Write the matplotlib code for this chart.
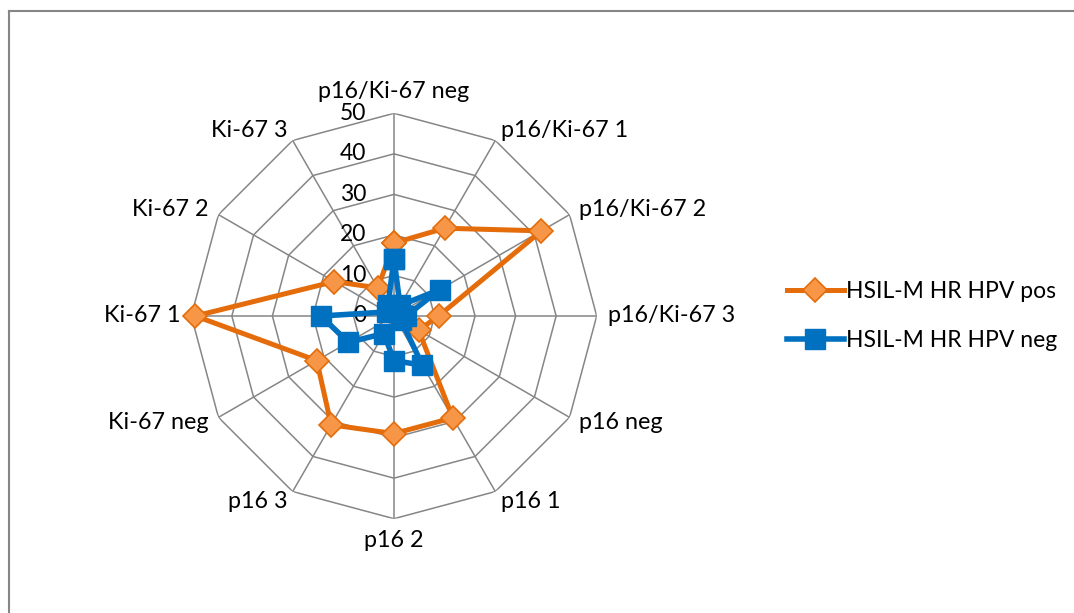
import numpy as np
import matplotlib
matplotlib.use("Agg")
import matplotlib.pyplot as plt
from matplotlib.lines import Line2D
from matplotlib.transforms import offset_copy

plt.rcParams['font.family'] = ['Lato', 'DejaVu Sans']

categories = ["p16/Ki-67 neg", "p16/Ki-67 1", "p16/Ki-67 2", "p16/Ki-67 3",
              "p16 neg", "p16 1", "p16 2", "p16 3",
              "Ki-67 neg", "Ki-67 1", "Ki-67 2", "Ki-67 3"]
hpv_pos = [18, 25, 42, 11, 7, 29, 29, 31, 22, 49, 17, 8]
hpv_neg = [14, 3, 13, 3, 2, 14, 11, 5, 13, 18, 2, 3]
series_names = ["HSIL-M HR HPV pos", "HSIL-M HR HPV neg"]
ring_values = [0, 10, 20, 30, 40, 50]

W, H = 1074, 613
fig = plt.figure(figsize=(W / 100, H / 100), dpi=100)

cx, cy, R = 394, 316, 202.7
ax = fig.add_axes([(cx - R) / W, (H - cy - R) / H, 2 * R / W, 2 * R / H],
                  projection='polar')
ax.set_theta_zero_location('N')
ax.set_theta_direction(-1)
ax.set_ylim(0, 50)
ax.grid(False)
ax.spines['polar'].set_visible(False)
ax.set_xticks([])
ax.set_yticks([])
ax.patch.set_alpha(0)

n = len(categories)
angles = np.arange(n) * 2 * np.pi / n
closed = np.concatenate([angles, angles[:1]])

grid_col = '#868686'
for r in ring_values[1:]:
    ax.plot(closed, [r] * (n + 1), color=grid_col, lw=1.1, zorder=1)
for a in angles:
    ax.plot([a, a], [0, 50], color=grid_col, lw=1.1, zorder=1)

# radial labels
for r in ring_values:
    tr = offset_copy(ax.transData, fig=fig, x=-28, y=0, units='dots')
    ax.text(0, r, str(r), transform=tr, ha='right', va='center',
            fontsize=16.5, color='black', zorder=2)

# category labels
pad = 11
for a, lab in zip(angles, categories):
    s, c = np.sin(a), np.cos(a)
    deg = np.degrees(a)
    if abs(deg) < 1:
        ha, va = 'center', 'bottom'
    elif abs(deg - 180) < 1:
        ha, va = 'center', 'top'
    elif deg < 180:
        ha, va = 'left', 'center'
    else:
        ha, va = 'right', 'center'
    tr = offset_copy(ax.transData, fig=fig, x=pad * s, y=pad * c, units='dots')
    ax.text(a, 50, lab, transform=tr, ha=ha, va=va, fontsize=16.8, color='black')

orange_line = '#E46C0A'
orange_fill = '#F79646'
blue = '#0070C0'

vals_pos = np.concatenate([hpv_pos, hpv_pos[:1]])
vals_neg = np.concatenate([hpv_neg, hpv_neg[:1]])
l1, = ax.plot(closed, vals_pos, color=orange_line, lw=3.6, marker='D', ms=12,
              mfc=orange_fill, mec=orange_line, mew=1.2, zorder=3,
              label=series_names[0])
l2, = ax.plot(closed, vals_neg, color=blue, lw=4.0, marker='s', ms=14,
              mfc=blue, mec=blue, zorder=4, label=series_names[1])
for l in (l1, l2):
    l.set_clip_on(False)

leg = fig.legend(handles=[l1, l2], loc='center left',
                 bbox_to_anchor=(766 / W, 1 - 316 / H), frameon=False,
                 fontsize=16.5, handlelength=2.5, handletextpad=0.1,
                 labelspacing=1.2)

# chart border
fig.add_artist(Line2D([9 / W, 9 / W], [0, 1 - 11 / H], transform=fig.transFigure,
                      color='#868686', lw=1.5))
fig.add_artist(Line2D([9 / W, 1], [1 - 11 / H, 1 - 11 / H], transform=fig.transFigure,
                      color='#868686', lw=1.5))

fig.savefig('out.png', dpi=100, facecolor='white')
